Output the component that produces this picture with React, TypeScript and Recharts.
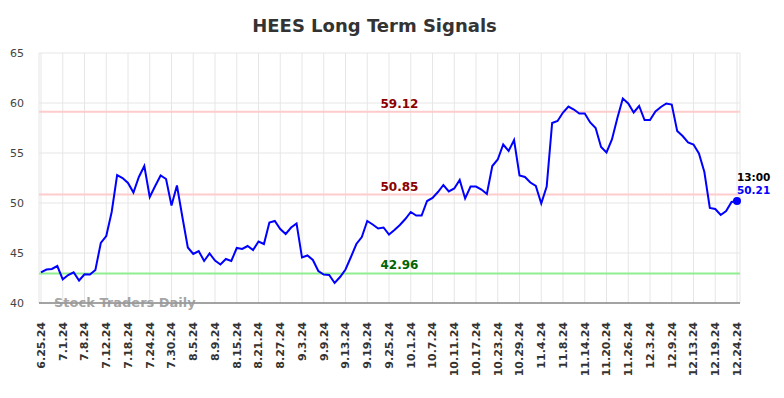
import React from 'react';
import { LineChart, Line, XAxis, YAxis, CartesianGrid, ReferenceLine } from 'recharts';

const dates: string[] = [
  '6.25.24', '6.26.24', '6.27.24', '6.28.24',
  '7.1.24', '7.2.24', '7.3.24', '7.5.24',
  '7.8.24', '7.9.24', '7.10.24', '7.11.24',
  '7.12.24', '7.15.24', '7.16.24', '7.17.24',
  '7.18.24', '7.19.24', '7.22.24', '7.23.24',
  '7.24.24', '7.25.24', '7.26.24', '7.29.24',
  '7.30.24', '7.31.24', '8.1.24', '8.2.24',
  '8.5.24', '8.6.24', '8.7.24', '8.8.24',
  '8.9.24', '8.12.24', '8.13.24', '8.14.24',
  '8.15.24', '8.16.24', '8.19.24', '8.20.24',
  '8.21.24', '8.22.24', '8.23.24', '8.26.24',
  '8.27.24', '8.28.24', '8.29.24', '8.30.24',
  '9.3.24', '9.4.24', '9.5.24', '9.6.24',
  '9.9.24', '9.10.24', '9.11.24', '9.12.24',
  '9.13.24', '9.16.24', '9.17.24', '9.18.24',
  '9.19.24', '9.20.24', '9.23.24', '9.24.24',
  '9.25.24', '9.26.24', '9.27.24', '9.30.24',
  '10.1.24', '10.2.24', '10.3.24', '10.4.24',
  '10.7.24', '10.8.24', '10.9.24', '10.10.24',
  '10.11.24', '10.14.24', '10.15.24', '10.16.24',
  '10.17.24', '10.18.24', '10.21.24', '10.22.24',
  '10.23.24', '10.24.24', '10.25.24', '10.28.24',
  '10.29.24', '10.30.24', '10.31.24', '11.1.24',
  '11.4.24', '11.5.24', '11.6.24', '11.7.24',
  '11.8.24', '11.11.24', '11.12.24', '11.13.24',
  '11.14.24', '11.15.24', '11.18.24', '11.19.24',
  '11.20.24', '11.21.24', '11.22.24', '11.25.24',
  '11.26.24', '11.27.24', '11.29.24', '12.2.24',
  '12.3.24', '12.4.24', '12.5.24', '12.6.24',
  '12.9.24', '12.10.24', '12.11.24', '12.12.24',
  '12.13.24', '12.16.24', '12.17.24', '12.18.24',
  '12.19.24', '12.20.24', '12.23.24', '12.24.24',
  '12.24.24',
];

const values: number[] = [
  43.07, 43.35, 43.4, 43.7, 42.37, 42.8, 43.07, 42.25, 42.87, 42.85,
  43.3, 46.0, 46.7, 49.1, 52.8, 52.5, 52.0, 51.05, 52.6, 53.7,
  50.6, 51.7, 52.75, 52.4, 49.75, 51.75, 48.6, 45.55, 44.9, 45.2,
  44.2, 44.95, 44.25, 43.85, 44.4, 44.2, 45.5, 45.4, 45.7, 45.3,
  46.15, 45.9, 48.05, 48.2, 47.4, 46.9, 47.55, 47.95, 44.55, 44.75,
  44.3, 43.2, 42.85, 42.8, 42.0, 42.6, 43.35, 44.6, 45.9, 46.6,
  48.2, 47.85, 47.45, 47.55, 46.85, 47.3, 47.8, 48.4, 49.1, 48.75,
  48.75, 50.2, 50.5, 51.1, 51.8, 51.15, 51.45, 52.3, 50.45, 51.65,
  51.65, 51.35, 50.9, 53.7, 54.35, 55.85, 55.2, 56.3, 52.75, 52.6,
  52.05, 51.7, 49.95, 51.65, 58.0, 58.2, 59.05, 59.65, 59.35, 58.95,
  58.95, 58.05, 57.5, 55.6, 55.05, 56.35, 58.5, 60.45, 59.95, 59.05,
  59.7, 58.3, 58.3, 59.15, 59.6, 59.95, 59.85, 57.2, 56.7, 56.05,
  55.85, 54.95, 53.1, 49.5, 49.4, 48.8, 49.2, 50.1, 50.21,
];

const yTicks: number[] = [40, 45, 50, 55, 60, 65];
const upperLevel = 59.12;
const middleLevel = 50.85;
const lowerLevel = 42.96;
const lastTime = '13:00';
const title = 'HEES Long Term Signals';
const watermark = 'Stock Traders Daily';

const data = dates.map((d, i) => ({ date: d, value: values[i] }));
const FONT = 'DejaVu Sans';

const XTick = (props: any) => {
  const { x, y, payload } = props;
  return (
    <g transform={`translate(${x},${y + 19})`}>
      <text
        transform="rotate(-90)"
        textAnchor="end"
        dy="0.35em"
        fontSize={11}
        fontWeight="bold"
        fontFamily={FONT}
        fill="#333"
      >
        {payload.value}
      </text>
    </g>
  );
};

const makeLevelLabel = (text: string, color: string) => (props: any) => {
  const vb = props.viewBox || {};
  const cx = vb.x + vb.width / 2 + 10;
  return (
    <text
      x={cx}
      y={vb.y - 4}
      textAnchor="middle"
      fontSize={12}
      fontWeight="bold"
      fontFamily={FONT}
      fill={color}
    >
      {text}
    </text>
  );
};

const renderDot = (props: any) => {
  const { cx, cy, index } = props;
  if (index !== values.length - 1) return <g key={`d${index}`} />;
  return (
    <g key={`d${index}`}>
      <circle cx={cx} cy={cy} r={4} fill="#0000ff" />
      <text x={cx} y={cy - 20} fontSize={10.5} fontWeight="bold" fontFamily={FONT} fill="#000">
        {lastTime}
      </text>
      <text x={cx} y={cy - 6.5} fontSize={10.5} fontWeight="bold" fontFamily={FONT} fill="#0000ff">
        {values[values.length - 1].toFixed(2)}
      </text>
    </g>
  );
};

export default function App() {
  return (
    <div style={{ position: 'absolute', left: 0, top: 0, width: 784, height: 398, background: '#fff' }}>
      <LineChart
        width={784}
        height={398}
        data={data}
        margin={{ top: 53, right: 44, bottom: 0, left: 0 }}
      >
        <CartesianGrid stroke="#e6e6e6" strokeWidth={1} />
        <XAxis
          dataKey="date"
          interval={3}
          height={95}
          tick={<XTick />}
          tickLine={false}
          tickSize={0}
          tickMargin={0}
          axisLine={{ stroke: '#555', strokeWidth: 1 }}
          padding={{ left: 2, right: 3 }}
        />
        <YAxis
          domain={[40, 65]}
          ticks={yTicks}
          width={39}
          tickLine={false}
          tickSize={0}
          tickMargin={15}
          axisLine={false}
          tick={{ fontSize: 11, fill: '#444', fontFamily: FONT }}
        />
        <ReferenceLine y={upperLevel} stroke="#ffcccc" strokeWidth={2} label={makeLevelLabel(upperLevel.toFixed(2), '#8b0000')} />
        <ReferenceLine y={middleLevel} stroke="#ffcccc" strokeWidth={2} label={makeLevelLabel(middleLevel.toFixed(2), '#8b0000')} />
        <ReferenceLine y={lowerLevel} stroke="#90ee90" strokeWidth={2} label={makeLevelLabel(lowerLevel.toFixed(2), '#006400')} />
        <Line
          type="linear"
          dataKey="value"
          stroke="#0000ff"
          strokeWidth={2}
          dot={renderDot}
          activeDot={false}
          isAnimationActive={false}
        />
      </LineChart>
      <svg
        width={784}
        height={398}
        style={{ position: 'absolute', left: 0, top: 0, pointerEvents: 'none' }}
      >
        <text x={374.5} y={32} textAnchor="middle" fontSize={18} fontWeight="bold" fontFamily={FONT} fill="#333">
          {title}
        </text>
        <text x={54} y={307} fontSize={13} fontWeight="bold" fontFamily={FONT} fill="#999" fillOpacity={0.9}>
          {watermark}
        </text>
      </svg>
    </div>
  );
}
